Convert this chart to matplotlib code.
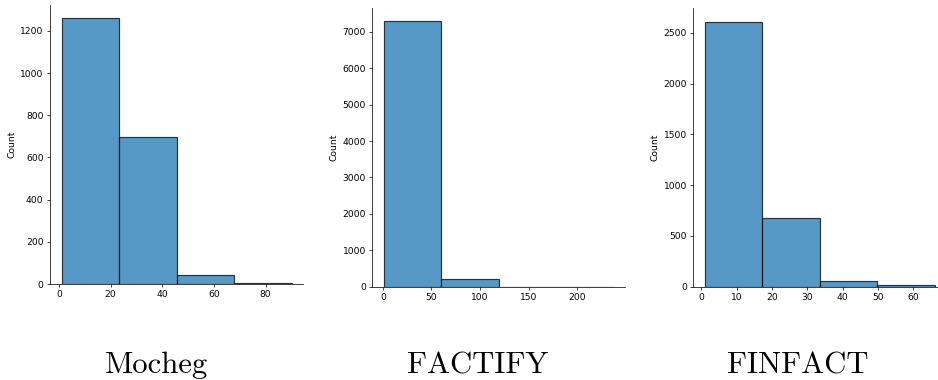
import matplotlib
matplotlib.use("Agg")
import matplotlib.pyplot as plt
import numpy as np

# Claim-length histograms for the three datasets (bin edges and counts per bin)
mocheg_edges = [1, 23.25, 45.5, 67.75, 90]
mocheg_counts = [1260, 695, 41, 4]

factify_edges = [1, 60, 119, 178, 237]
factify_counts = [7290, 202, 5, 2]

finfact_edges = [1, 17.25, 33.5, 49.75, 66]
finfact_counts = [2610, 673, 58, 12]

dataset_names = ["Mocheg", "FACTIFY", "FINFACT"]

W, H, DPI = 938, 380, 66
fig = plt.figure(figsize=(W / DPI, H / DPI), dpi=DPI)

# axes boxes in pixels: left, top, right, bottom
boxes = [
    (50, 5, 303, 284),
    (372.3, 8, 625, 286.7),
    (693.3, 8.3, 946, 286.7),
]
title_x = [156.5, 477.5, 798]
title_baseline = 373

series = [
    (mocheg_edges, mocheg_counts),
    (factify_edges, factify_counts),
    (finfact_edges, finfact_counts),
]

for (l, t, r, b), (edges, counts), name, tx in zip(boxes, series, dataset_names, title_x):
    ax = fig.add_axes([l / W, 1 - b / H, (r - l) / W, (b - t) / H])
    edges = np.asarray(edges, dtype=float)
    centers = (edges[:-1] + edges[1:]) / 2
    ax.hist(centers, bins=edges, weights=counts, color="#1f77b4", alpha=0.75,
            edgecolor="black", linewidth=1.3)
    ax.set_ylabel("Count")
    ax.spines["top"].set_visible(False)
    ax.spines["right"].set_visible(False)
    fig.text(tx / W, 1 - title_baseline / H, name, fontname="cmr10",
             fontsize=33.5, ha="center", va="baseline")

fig.savefig("out.png", dpi=DPI)
